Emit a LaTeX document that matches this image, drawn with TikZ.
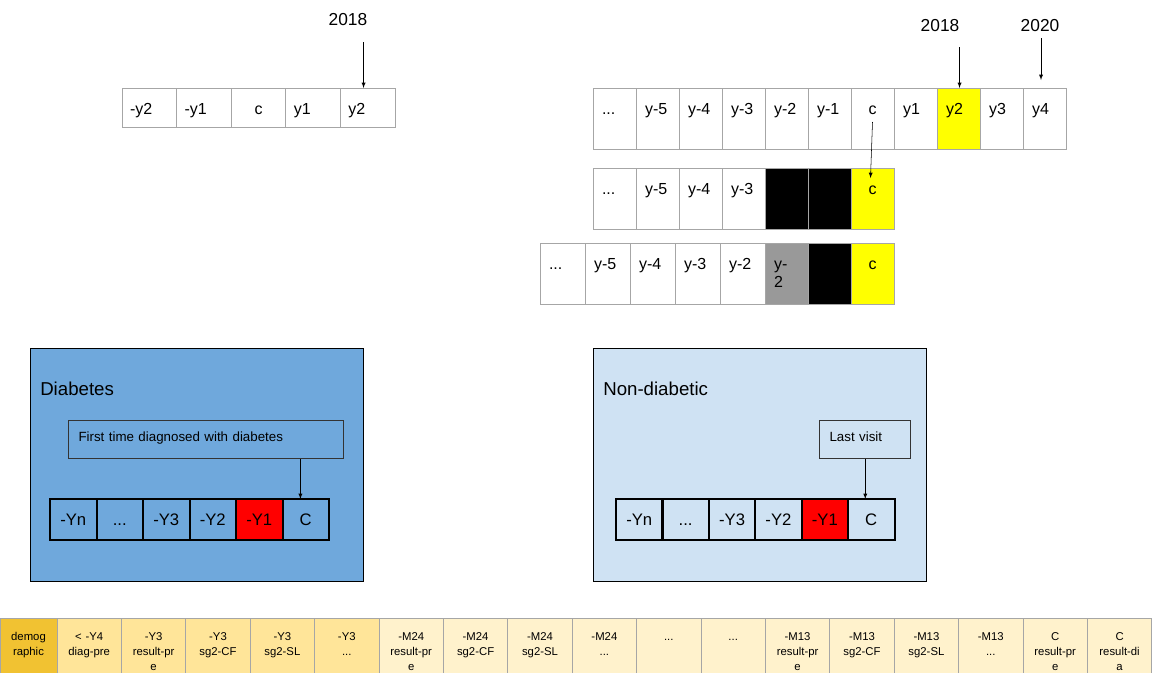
\documentclass[tikz,border=0pt]{standalone}
\usepackage{fontspec}
\setmainfont{Liberation Sans}
\usetikzlibrary{positioning}
\definecolor{cellgray}{HTML}{A6A6A6}
\definecolor{hilite}{HTML}{FFFF00}
\definecolor{midgray}{HTML}{999999}
\definecolor{diabblue}{HTML}{6FA8DC}
\definecolor{nondblue}{HTML}{CFE2F3}
\definecolor{demogold}{HTML}{F1C232}
\definecolor{ylwmid}{HTML}{FFE599}
\definecolor{ylwpale}{HTML}{FFF2CC}
\newcommand{\more}{...}
\tikzset{
  yrcell/.style={draw=cellgray, line width=0.75pt, anchor=north west, outer sep=0pt, inner ysep=0pt, inner xsep=6.75pt, text width=18.75pt, text height=19.5pt, text depth=26.25pt, align=left, font=\fontsize{12}{14}\selectfont},
  wide/.style={text width=20.25pt},
  smallcell/.style={yrcell, inner xsep=6pt, text width=28.95pt, text depth=9.75pt},
  ctr/.style={align=center},
  hl/.style={fill=hilite},
  hlc/.style={fill=hilite, align=center},
  blk/.style={fill=black},
  gry/.style={fill=midgray},
  year/.style={font=\fontsize{13}{15}\selectfont, inner sep=0pt},
  group/.style={draw=black, line width=0.75pt, anchor=north west, minimum width=249.75pt, minimum height=174.75pt},
  title/.style={anchor=base west, font=\fontsize{14}{17}\selectfont, inner sep=0pt},
  note/.style={draw=black!80, line width=0.75pt, anchor=north west, inner ysep=0pt, inner xsep=7.5pt, text height=16pt, text depth=12.5pt, align=left, font=\fontsize{10}{12}\selectfont},
  tcell/.style={draw=black, line width=1.5pt, anchor=north west, outer sep=0pt, inner sep=0pt, minimum width=34.875pt, minimum height=30.75pt, text height=9pt, text depth=0pt, font=\fontsize{12.5}{15}\selectfont},
  flag/.style={fill=red},
  strip/.style={draw=cellgray, line width=0.75pt, anchor=north west, outer sep=0pt, inner ysep=0pt, inner xsep=2pt, text width=44.3pt, text height=16.5pt, text depth=28.5pt, align=center, font=\fontsize{8.5}{11.6}\selectfont}
}
\begin{document}
\begin{tikzpicture}[x=0.75pt,y=-0.75pt,>=latex]
\clip (0,0) rectangle (1152,672);
% small timeline
\foreach \t/\s [count=\i] in {-y2/,-y1/,c/ctr,y1/,y2/}
  \node[smallcell,\s] (d\i) at ({122+54.6*(\i-1)},88) {\t};
\node[year] (l18a) at (348,20) {2018};
\draw[->] ([xshift=-3pt,yshift=-12pt]l18a.south east) -- ([xshift=-3pt]l18a.south east |- d5.north);
% long timeline and the two shifted ones
\foreach \t/\s [count=\i] in {\more/,y-5/,y-4/,y-3/,y-2/,y-1/,c/ctr,y1/,y2/hl,y3/,y4/}
  \node[yrcell,\s] (a\i) at ({593+43*(\i-1)},88) {\t};
\foreach \t/\s [count=\i] in {\more/,y-5/,y-4/,y-3/,{}/blk,{}/blk,c/hlc}
  \node[yrcell,\s] (b\i) at ({593+43*(\i-1)},168) {\t};
\foreach \t [count=\i] in {\more,y-5,y-4,y-3,y-2}
  \node[yrcell,wide] (c\i) at ({540+45*(\i-1)},243) {\t};
\foreach \t/\s [count=\i from 6] in {{y-\\2}/gry,{}/blk,c/hlc}
  \node[yrcell,\s] (c\i) at ({765+43*(\i-6)},243) {\t};
\node[year] (l18b) at (940,26) {2018};
\node[year] (l20) at (1040,26) {2020};
\draw[->] ([yshift=-11pt]l18b.south east) -- (l18b.south east |- a9.north);
\draw[->] ([xshift=0.75pt,yshift=-4.5pt]l20.south) -- ([xshift=0.75pt,yshift=6pt]l20.south |- a11.north);
\draw[->] ([yshift=-25.5pt]a7.north) -- ([xshift=-1.5pt,yshift=-7.5pt]b7.north);
% diabetic group
\node[group, fill=diabblue] (diab) at (30,348) {};
\node[title] (diabtitle) at (40,395) {Diabetes};
\node[note, text width=191.25pt] (diabnote) at (68,420) {First time diagnosed with diabetes};
\foreach \t/\s [count=\i] in {-Yn/,\more/,-Y3/,-Y2/,-Y1/flag,C/}
  \node[tcell,\s] (e\i) at ({50+46.5*(\i-1)},499) {\t};
\draw[->] ([xshift=-4pt]e6.north |- diabnote.south) -- ([xshift=-4pt]e6.north);
% non-diabetic group
\node[group, fill=nondblue] (nond) at (593,348) {};
\node[title] (nondtitle) at (603,395) {Non-diabetic};
\node[note, text width=53.25pt] (lastvisit) at (819,420) {Last visit};
\foreach \t/\s [count=\i] in {-Yn/,\more/,-Y3/,-Y2/,-Y1/flag,C/}
  \node[tcell,\s] (f\i) at ({616+46.4*(\i-1)},499) {\t};
\draw[->] ([xshift=-4.5pt]f6.north |- lastvisit.south) -- ([xshift=-4.5pt]f6.north);
% feature strip
\node[strip, text width=38.75pt, fill=demogold] (s1) at (0,618) {demog\\raphic};
\foreach \t/\s [count=\i from 2] in {{< -Y4\\diag-pre}/ylwmid,{-Y3\\result-pr\\e}/ylwmid,{-Y3\\sg2-CF}/ylwmid,{-Y3\\sg2-SL}/ylwmid,{-Y3\\\more}/ylwmid,
    {-M24\\result-pr\\e}/ylwpale,{-M24\\sg2-CF}/ylwpale,{-M24\\sg2-SL}/ylwpale,{-M24\\\more}/ylwpale,{\more}/ylwpale,{\more}/ylwpale,
    {-M13\\result-pr\\e}/ylwpale,{-M13\\sg2-CF}/ylwpale,{-M13\\sg2-SL}/ylwpale,{-M13\\\more}/ylwpale,{C\\result-pr\\e}/ylwpale,{C\\result-di\\a}/ylwpale}
  \node[strip, fill=\s] (s\i) at ({57+64.4*(\i-2)},618) {\t};
\end{tikzpicture}
\end{document}
